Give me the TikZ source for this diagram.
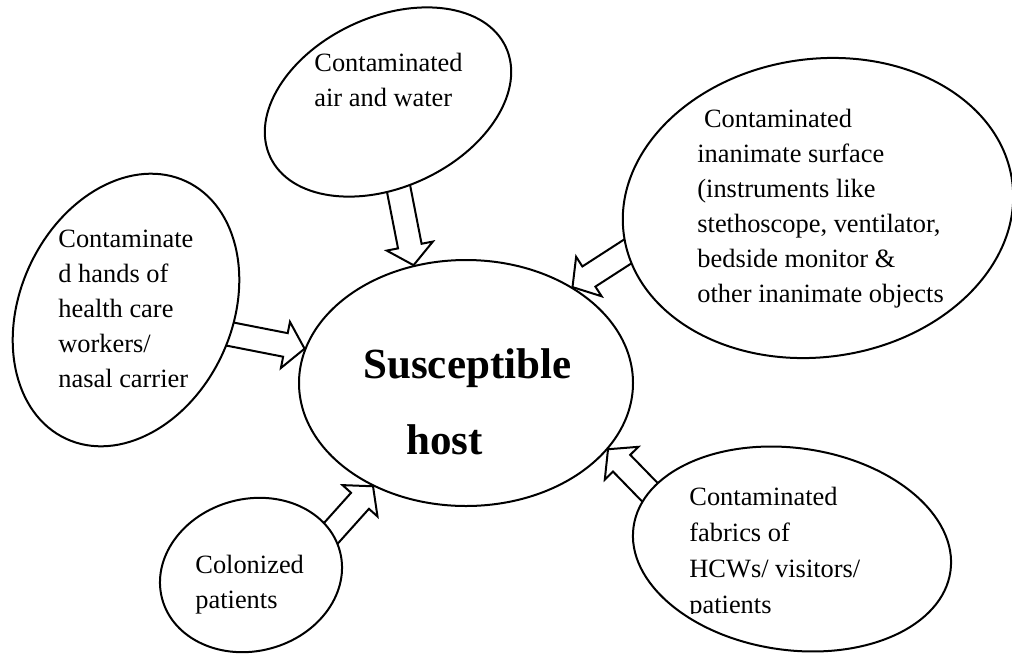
\documentclass[tikz,border=0pt]{standalone}
\usepackage{fontspec}
\setmainfont{Liberation Serif}
\usepackage{tikz}
\usetikzlibrary{shapes.geometric, calc, backgrounds}

\begin{document}
\begin{tikzpicture}[x=0.5pt, y=-0.5pt,
  blob/.style={ellipse, draw, fill=white, line width=1pt, inner sep=0pt},
  txt/.style={anchor=north west, align=left, inner sep=0pt,
              font=\fontsize{13.2}{17.5}\selectfont},
  big/.style={anchor=north west, align=left, inner sep=0pt,
              font=\fontsize{21.5}{38}\selectfont\bfseries},
  fat/.style={draw, fill=white, line width=1pt, line join=miter,
    to path={
      ($(\tikztostart)!-8pt!(\tikztotarget)$) coordinate (t0)
      ($(\tikztotarget)!9.75pt!(\tikztostart)$) coordinate (t1)
      ($(t0)!6pt!90:(\tikztotarget)$) -- ($(t1)!6pt!90:(\tikztotarget)$)
      -- ($(t1)!11.75pt!90:(\tikztotarget)$) -- (\tikztotarget)
      -- ($(t1)!11.75pt!-90:(\tikztotarget)$) -- ($(t1)!6pt!-90:(\tikztotarget)$)
      -- ($(t0)!6pt!-90:(\tikztotarget)$) -- cycle}},
]
  \useasboundingbox (0,0) rectangle (1012,654);

  % Sources
  \node[blob, minimum width=130pt, minimum height=85pt, rotate=25]  (air)       at (388,102) {};
  \node[blob, minimum width=106pt, minimum height=142pt, rotate=-25] (hands)    at (126,310) {};
  \node[blob, minimum width=196pt, minimum height=149pt, rotate=8]  (surface)   at (818,208) {};
  \node[blob, minimum width=160pt, minimum height=101pt, rotate=-8] (fabrics)   at (792,549) {};
  \node[blob, minimum width=92pt, minimum height=76pt, rotate=15]   (colonized) at (251,575) {};

  % Host
  \node[blob, fill=none, minimum width=167pt, minimum height=123pt] (host) at (466,383) {};

  % Labels
  \node[txt] (airtxt)   at (314,53)  {Contaminated\\air and water};
  \node[txt] (handstxt) at (58,230)  {Contaminate\\d hands of\\health care\\workers/\\nasal carrier};
  \node[txt] (surftxt)  at (697,109) {\hspace*{0.25em}Contaminated\\inanimate surface\\(instruments like\\stethoscope, ventilator,\\bedside monitor \&\\other inanimate objects};
  \begin{scope}
    \clip (600,440) rectangle (1012,613);
    \node[txt, font=\fontsize{13.2}{18}\selectfont] (fabtxt) at (689,487) {Contaminated\\fabrics of\\HCWs/ visitors/\\patients};
  \end{scope}
  \node[txt] (coltxt)   at (195,555) {Colonized\\patients};
  \node[big] (hosttxt)  at (363,348) {Susceptible\\\hspace*{21.5pt}host};

  % Arrows
  \begin{scope}[on background layer]
    \foreach \src/\a/\b in {air/-108/114, hands/12/168, surface/185/42,
                            fabrics/166/-25, colonized/13/-132} {
      \draw[fat] (\src.\a) to (host.\b);
    }
  \end{scope}

\end{tikzpicture}
\end{document}
